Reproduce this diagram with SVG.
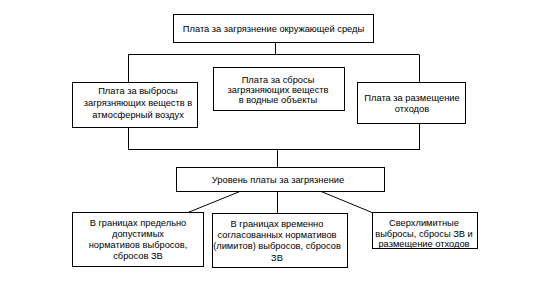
<svg xmlns="http://www.w3.org/2000/svg" width="535" height="289" viewBox="0 0 535 289">
<style>
rect{fill:#fff;stroke:#000;stroke-width:1}
line{stroke:#000;stroke-width:1}
text{font-family:"Liberation Sans",Arial,sans-serif;font-size:9.3px;fill:#000;text-anchor:middle}
</style>
<rect x="0" y="0" width="535" height="289" fill="#fff" stroke="none" style="stroke:none"/>
<g id="connectors">
<line x1="275.5" y1="42" x2="275.5" y2="54.5"/>
<line x1="128" y1="54.5" x2="419" y2="54.5"/>
<line x1="128.5" y1="54.5" x2="128.5" y2="82"/>
<line x1="419.5" y1="54.5" x2="419.5" y2="82"/>
<line x1="128.5" y1="127" x2="128.5" y2="149.5"/>
<line x1="419.5" y1="123" x2="419.5" y2="149.5"/>
<line x1="128" y1="149.5" x2="420" y2="149.5"/>
<line x1="277.5" y1="149.5" x2="277.5" y2="167"/>
<line x1="277.5" y1="191" x2="277.5" y2="213"/>
<line x1="241" y1="191" x2="188" y2="212.5"/>
<line x1="320" y1="191" x2="372" y2="212.5"/>
</g>
<g id="n1"><rect x="173.5" y="14.5" width="200" height="28"/><text x="273.5" y="31.5">Плата за загрязнение окружающей среды</text></g>
<g id="n2"><rect x="72.5" y="82.5" width="125" height="45"/><text x="138" y="94">Плата за выбросы</text><text x="138" y="106">загрязняющих веществ в</text><text x="138" y="118">атмосферный воздух</text></g>
<g id="n3"><rect x="213.5" y="67.5" width="131" height="43"/><text x="278" y="82.5">Плата за сбросы</text><text x="278" y="92.5">загрязняющих веществ</text><text x="278" y="102.5">в водные объекты</text></g>
<g id="n4"><rect x="357.5" y="82.5" width="108" height="41"/><text x="412" y="101">Плата за размещение</text><text x="412" y="111.5">отходов</text></g>
<g id="n5"><rect x="176.5" y="167.5" width="208" height="24"/><text x="278" y="182.5">Уровень платы за загрязнение</text></g>
<g id="n6"><rect x="72.5" y="212.5" width="131" height="54"/><text x="138" y="226">В границах предельно</text><text x="138" y="237">допустимых</text><text x="138" y="248">нормативов выбросов,</text><text x="138" y="259">сбросов ЗВ</text></g>
<g id="n7"><rect x="212.5" y="213.5" width="135" height="54"/><text x="277" y="227">В границах временно</text><text x="277" y="238">согласованных нормативов</text><text x="277" y="249">(лимитов) выбросов, сбросов</text><text x="277" y="261">ЗВ</text></g>
<g id="n8"><rect x="372.5" y="212.5" width="105" height="36"/><text x="424" y="226">Сверхлимитные</text><text x="424" y="236.5">выбросы, сбросы ЗВ и</text><text x="424" y="247">размещение отходов</text></g>
</svg>
